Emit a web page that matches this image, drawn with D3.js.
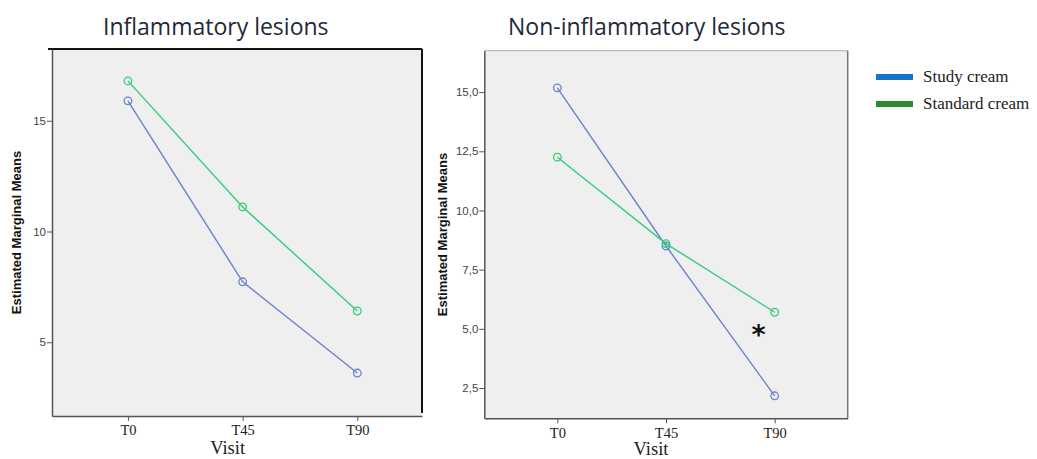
<!DOCTYPE html>
<html><head><meta charset="utf-8">
<script src="https://cdn.jsdelivr.net/npm/d3@7"></script>
<style>body{margin:0;background:#fff}svg{display:block}</style>
</head><body>
<svg id="c" width="1037" height="459"></svg>
<script>
const visits = ["T0","T45","T90"];
const studyInflam = [15.9, 7.73, 3.61];
const standardInflam = [16.8, 11.11, 6.41];
const studyNonInflam = [15.18, 8.5, 2.17];
const standardNonInflam = [12.25, 8.6, 5.7];
const inflamTicks = [5, 10, 15];
const nonInflamTicks = [2.5, 5.0, 7.5, 10.0, 12.5, 15.0];
const seriesNames = ["Study cream", "Standard cream"];
const titles = ["Inflammatory lesions", "Non-inflammatory lesions"];

const blue = "#6a82cf", green = "#2fcf78";
const svg = d3.select("#c");

function panel(cfg){
  const g = svg.append("g");
  const x = d3.scalePoint().domain(visits).range([cfg.x0, cfg.x1]).padding(cfg.pad).align(cfg.align);
  const y = d3.scaleLinear().domain(cfg.ydom).range([cfg.y1, cfg.y0]);
  g.append("rect").attr("x",cfg.x0).attr("y",cfg.y0).attr("width",cfg.x1-cfg.x0).attr("height",cfg.y1-cfg.y0).attr("fill","#efefef");
  g.append("line").attr("x1",cfg.topX0).attr("x2",cfg.x1).attr("y1",cfg.y0).attr("y2",cfg.y0).attr("stroke",cfg.topColor).attr("stroke-width",cfg.topW);
  g.append("line").attr("x1",cfg.x1).attr("x2",cfg.x1).attr("y1",cfg.y0).attr("y2",cfg.rightEnd).attr("stroke",cfg.rightColor).attr("stroke-width",cfg.rightW);
  const ya = g.append("g").attr("transform",`translate(${cfg.x0},0)`)
    .call(d3.axisLeft(y).tickValues(cfg.ticks).tickSize(5).tickSizeOuter(0).tickFormat(cfg.fmt));
  ya.select(".domain").attr("stroke","#555").attr("stroke-width",1.5);
  ya.selectAll(".tick line").attr("stroke","#555");
  ya.selectAll(".tick text").attr("font-family","Liberation Sans, Arial, sans-serif").attr("font-size",11.5).attr("fill","#444").attr("x",-6);
  const xa = g.append("g").attr("transform",`translate(0,${cfg.y1})`)
    .call(d3.axisBottom(x).tickSize(5).tickSizeOuter(0));
  xa.select(".domain").attr("stroke","#555").attr("stroke-width",1.5);
  xa.selectAll(".tick line").attr("stroke","#555");
  xa.selectAll(".tick text").attr("font-family","Liberation Serif, serif").attr("font-size",14.5).attr("fill","#222").attr("y",9);
  svg.append("text").attr("x",cfg.titleX).attr("y",35).attr("font-family","Open Sans, Noto Sans, sans-serif")
    .attr("font-size",23).attr("fill","#1e2a3a").text(cfg.title);
  svg.append("text").attr("transform",`translate(${cfg.yTitleX},${(cfg.y0+cfg.y1)/2}) rotate(-90)`)
    .attr("text-anchor","middle").attr("font-family","Liberation Sans, Arial, sans-serif").attr("font-weight","bold")
    .attr("font-size",13).attr("fill","#111").text("Estimated Marginal Means");
  svg.append("text").attr("x",x("T45")-15).attr("y",cfg.visitY).attr("text-anchor","middle")
    .attr("font-family","Liberation Serif, serif").attr("font-size",18.5).attr("fill","#222").text("Visit");
  const line = d3.line().x((d,i)=>x(visits[i])).y(d=>y(d));
  [[cfg.study,blue],[cfg.standard,green]].forEach(([vals,col])=>{
    g.append("path").datum(vals).attr("d",line).attr("fill","none").attr("stroke",col).attr("stroke-width",1.4);
    g.selectAll(null).data(vals).enter().append("circle").attr("cx",(d,i)=>x(visits[i])).attr("cy",d=>y(d))
      .attr("r",3.8).attr("fill","none").attr("stroke",col).attr("stroke-width",1.3);
  });
  return {x,y};
}

panel({x0:52,x1:422,y0:49,y1:416,pad:0.613,align:0.54,ydom:[1.67,18.24],ticks:inflamTicks,fmt:d3.format("d"),
  study:studyInflam,standard:standardInflam,title:titles[0],titleX:103,yTitleX:21,visitY:454,
  topX0:48,topColor:"#111",topW:2,rightColor:"#111",rightW:2,rightEnd:413});
const p2 = panel({x0:484.3,x1:847.7,y0:50.7,y1:418.3,pad:0.672,align:0.5,ydom:[1.22,16.75],ticks:nonInflamTicks,
  fmt:d=>d3.format(".1f")(d).replace(".",","),
  study:studyNonInflam,standard:standardNonInflam,title:titles[1],titleX:508,yTitleX:447,visitY:455,
  topX0:484.3,topColor:"#bbb",topW:1.2,rightColor:"#777",rightW:1.5,rightEnd:418.3});

svg.append("text").attr("x",p2.x("T90")-16).attr("y",p2.y(4.35)).attr("text-anchor","middle")
  .attr("font-family","DejaVu Sans, sans-serif").attr("font-weight","bold").attr("font-size",27).attr("fill","#111").text("*");

const legColors = ["#1a72c8","#2e8a2e"];
seriesNames.forEach((n,i)=>{
  const yy = 77 + i*27;
  svg.append("rect").attr("x",876).attr("y",yy-3).attr("width",37).attr("height",6).attr("fill",legColors[i]);
  svg.append("text").attr("x",923).attr("y",yy+5).attr("font-family","Liberation Serif, serif").attr("font-size",17).attr("fill","#222").text(n);
});
</script>
</body></html>
